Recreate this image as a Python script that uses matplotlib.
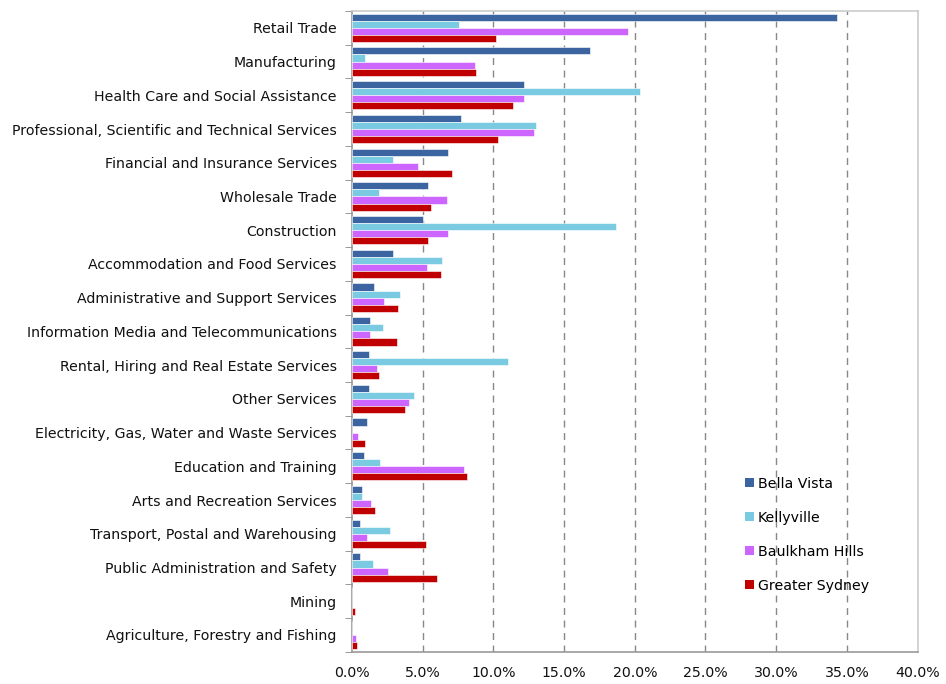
import matplotlib
matplotlib.use("Agg")
import matplotlib.pyplot as plt
import numpy as np
from matplotlib.ticker import FuncFormatter, FixedLocator

categories = [
    "Retail Trade", "Manufacturing", "Health Care and Social Assistance",
    "Professional, Scientific and Technical Services", "Financial and Insurance Services",
    "Wholesale Trade", "Construction", "Accommodation and Food Services",
    "Administrative and Support Services", "Information Media and Telecommunications",
    "Rental, Hiring and Real Estate Services", "Other Services",
    "Electricity, Gas, Water and Waste Services", "Education and Training",
    "Arts and Recreation Services", "Transport, Postal and Warehousing",
    "Public Administration and Safety", "Mining", "Agriculture, Forestry and Fishing",
]
bella_vista = [34.3, 16.8, 12.2, 7.7, 6.8, 5.4, 5.0, 2.9, 1.55, 1.25, 1.2, 1.2, 1.05, 0.85, 0.7, 0.6, 0.55, 0.0, 0.0]
kellyville = [7.6, 0.95, 20.4, 13.0, 2.9, 1.95, 18.65, 6.4, 3.4, 2.2, 11.07, 4.4, 0.0, 1.97, 0.73, 2.7, 1.48, 0.0, 0.0]
baulkham_hills = [19.5, 8.7, 12.2, 12.9, 4.7, 6.7, 6.8, 5.3, 2.3, 1.27, 1.8, 4.05, 0.4, 7.93, 1.34, 1.06, 2.56, 0.0, 0.28]
greater_sydney = [10.2, 8.8, 11.4, 10.3, 7.1, 5.6, 5.4, 6.3, 3.26, 3.2, 1.9, 3.73, 0.94, 8.14, 1.64, 5.25, 6.05, 0.21, 0.35]

series = [
    ("Bella Vista", bella_vista, "#3B64A0"),
    ("Kellyville", kellyville, "#7ACBE1"),
    ("Baulkham Hills", baulkham_hills, "#CC66FF"),
    ("Greater Sydney", greater_sydney, "#C00000"),
]

fig = plt.figure(figsize=(9.46, 6.84), dpi=100)
ax = fig.add_axes([0.372, 0.047, 0.598, 0.937])

n = len(categories)
y = np.arange(n)
bh = 0.21
offsets = [-1.5 * bh, -0.5 * bh, 0.5 * bh, 1.5 * bh]
for (name, vals, col), off in zip(series, offsets):
    ax.barh(y + off, vals, height=bh, color=col, edgecolor="white", linewidth=0.4,
            label=name, zorder=3)

ax.set_ylim(n - 0.5, -0.5)
ax.set_xlim(0, 40)
ax.set_yticks(y)
ax.set_yticklabels(categories, fontsize=10.2, color="#111111")
ax.tick_params(axis="y", which="major", length=0, pad=11)
ax.yaxis.set_minor_locator(FixedLocator(np.arange(-0.5, n + 0.5, 1)))
ax.tick_params(axis="y", which="minor", length=5, color="#888888")

ax.set_xticks(np.arange(0, 41, 5))
ax.xaxis.set_major_formatter(FuncFormatter(lambda v, p: f"{v:.1f}%"))
ax.tick_params(axis="x", length=0, labelsize=10.2, pad=10, labelcolor="#111111")

for xv in np.arange(5, 40, 5):
    ax.axvline(xv, color="#888888", linestyle=(0, (5, 4)), linewidth=1.0, zorder=1)

for s in ["left", "bottom"]:
    ax.spines[s].set_color("#999999")
    ax.spines[s].set_linewidth(1.2)
for s in ["top", "right"]:
    ax.spines[s].set_color("#CCCCCC")
    ax.spines[s].set_linewidth(1.2)

leg = ax.legend(loc="lower right", bbox_to_anchor=(0.937, 0.072), frameon=False,
                fontsize=10.2, handlelength=0.6, handleheight=0.6, handletextpad=0.3,
                labelspacing=1.42)
for h in leg.legend_handles:
    h.set_edgecolor("none")

fig.savefig("out.png", dpi=100)
